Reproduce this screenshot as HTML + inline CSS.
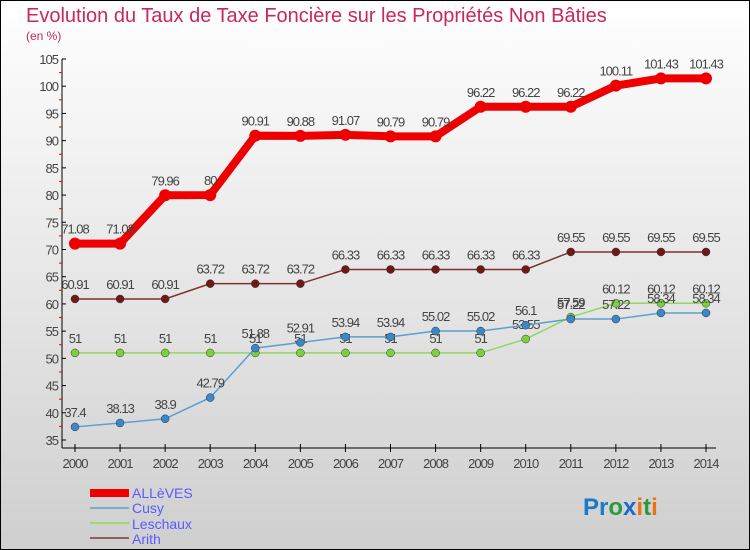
<!DOCTYPE html>
<html><head><meta charset="utf-8"><style>
html,body{margin:0;padding:0}
body{width:750px;height:550px;overflow:hidden;font-family:"Liberation Sans",sans-serif}
svg{display:block}
</style></head><body>
<svg id="chart" width="750" height="550" xmlns="http://www.w3.org/2000/svg">
<defs><linearGradient id="bg" x1="0" y1="0" x2="0" y2="1"><stop offset="0" stop-color="#ffffff"/><stop offset="1" stop-color="#cfcfcf"/></linearGradient></defs>
<rect x="0.5" y="0.5" width="749" height="549" fill="url(#bg)" stroke="#000"/>
<text x="26" y="22" font-size="20" fill="#c8285a">Evolution du Taux de Taxe Foncière sur les Propriétés Non Bâties</text>
<text x="26" y="40" font-size="12" fill="#c8285a">(en %)</text>
<g id="axes"></g>
<g id="series"></g>
<g>
<rect x="90" y="489" width="39" height="8" fill="#e00"/>
<text x="132" y="498" font-size="14" fill="#5a5aff">ALLèVES</text>
<rect x="90" y="507" width="39" height="2" fill="#7aaccc"/>
<text x="132" y="513" font-size="14" fill="#5a5aff">Cusy</text>
<rect x="90" y="522" width="39" height="2" fill="#a0d870"/>
<text x="132" y="529" font-size="14" fill="#5a5aff">Leschaux</text>
<rect x="90" y="537" width="39" height="2" fill="#906060"/>
<text x="132" y="544" font-size="14" fill="#5a5aff">Arith</text>
</g>
<text x="583" y="515" font-size="24" font-weight="bold"><tspan fill="#1a7ac8">Pr</tspan><tspan fill="#2a9a3a">o</tspan><tspan fill="#1a6ac8">x</tspan><tspan fill="#f07010">i</tspan><tspan fill="#2a9a3a">t</tspan><tspan fill="#f07010">i</tspan></text>
</svg>
<script>
const years=[2000,2001,2002,2003,2004,2005,2006,2007,2008,2009,2010,2011,2012,2013,2014];
const yTicks=[35,40,45,50,55,60,65,70,75,80,85,90,95,100,105];
const alleves=[71.08,71.08,79.96,80,90.91,90.88,91.07,90.79,90.79,96.22,96.22,96.22,100.11,101.43,101.43];
const cusy=[37.4,38.13,38.9,42.79,51.88,52.91,53.94,53.94,55.02,55.02,56.1,57.22,57.22,58.34,58.34];
const leschaux=[51,51,51,51,51,51,51,51,51,51,53.55,57.59,60.12,60.12,60.12];
const arith=[60.91,60.91,60.91,63.72,63.72,63.72,66.33,66.33,66.33,66.33,66.33,69.55,69.55,69.55,69.55];
const NS="http://www.w3.org/2000/svg";
const X0=75,X1=706,Y105=59,Y35=440;
const xs=i=>X0+(X1-X0)*i/(years.length-1);
const ys=v=>Y35-(v-35)*(Y35-Y105)/70;
function mk(tag,attrs,parent){const e=document.createElementNS(NS,tag);for(const k in attrs)e.setAttribute(k,attrs[k]);parent.appendChild(e);return e;}
const ax=document.getElementById('axes');
let a=mk('line',{x1:62,y1:Y105,x2:62,y2:Y35+8,stroke:'#000','stroke-width':1},ax);


a=mk('line',{x1:62,y1:Y35+8,x2:X1+10,y2:Y35+8,stroke:'#000','stroke-width':1},ax);


yTicks.forEach(v=>{const y=ys(v);
mk('line',{x1:62,y1:y,x2:66,y2:y,stroke:'#000'},ax);
if(v<105)mk('line',{x1:59,y1:ys(v+2.5),x2:62,y2:ys(v+2.5),stroke:'#e00'},ax);
const t=mk('text',{x:58,y:y+5,'text-anchor':'end','font-size':13,fill:'#444','letter-spacing':'-1'},ax);t.textContent=v;

});
years.forEach((yr,i)=>{const x=xs(i);
mk('line',{x1:x,y1:Y35+4,x2:x,y2:Y35+12,stroke:'#000'},ax);
const t=mk('text',{x:x,y:Y35+28,'text-anchor':'middle','font-size':13,fill:'#444','letter-spacing':'-1'},ax);t.textContent=yr;

});
const sg=document.getElementById('series');
function draw(vals,name,color,w,r,fill){
const g=mk('g',{},sg);


const l=mk('polyline',{points:vals.map((v,i)=>xs(i)+','+ys(v)).join(' '),fill:'none',stroke:color,'stroke-width':w},g);


vals.forEach((v,i)=>{
const c=mk('circle',{cx:xs(i),cy:ys(v),r:r,fill:fill,stroke:w>3?'none':'#333','stroke-width':0.5},g);


const t=mk('text',{x:xs(i),y:ys(v)-10,'text-anchor':'middle','font-size':13,fill:'#444','letter-spacing':'-1'},g);
t.textContent=v;

});}
draw(arith,'arith','#803030',1.5,4,'#701818');
draw(leschaux,'leschaux','#90d860',1.5,4,'#7cd040');
draw(cusy,'cusy','#5aa0d0',1.5,4,'#3a88c8');
draw(alleves,'alleves','#ee0000',8,6,'#ee0000');
</script>
</body></html>
